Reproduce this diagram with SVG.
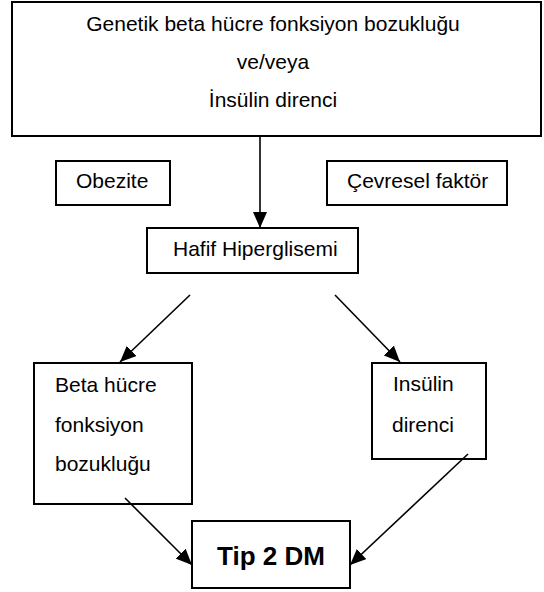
<svg xmlns="http://www.w3.org/2000/svg" width="544" height="592" viewBox="0 0 544 592">
<defs>
<style>
.box{fill:#fff;stroke:#000;stroke-width:2}
.t{font-family:"Liberation Sans",Arial,sans-serif;font-size:21px;fill:#000}
.b{font-family:"Liberation Sans",Arial,sans-serif;font-size:26px;font-weight:bold;fill:#000}
.c{stroke:#000;stroke-width:1.6;fill:none}
</style>
<marker id="ah2" viewBox="0 0 16 14" refX="16" refY="7" markerWidth="16" markerHeight="14" markerUnits="userSpaceOnUse" orient="auto">
<path d="M0,0 L16,7 L0,14 z" fill="#000"/>
</marker>
</defs>
<rect width="544" height="592" fill="#fff"/>
<g id="top">
<rect class="box" x="12" y="2" width="529" height="134"/>
<text class="t" x="273" y="31" text-anchor="middle">Genetik beta hücre fonksiyon bozukluğu</text>
<text class="t" x="273" y="69" text-anchor="middle">ve/veya</text>
<text class="t" x="273" y="107" text-anchor="middle">İnsülin direnci</text>
</g>
<g id="obezite">
<rect class="box" x="56" y="161" width="114" height="44"/>
<text class="t" x="76" y="188">Obezite</text>
</g>
<g id="cevresel">
<rect class="box" x="327" y="161" width="180" height="44"/>
<text class="t" x="347" y="188">Çevresel faktör</text>
</g>
<g id="hafif">
<rect class="box" x="147" y="228" width="211" height="45"/>
<text class="t" x="173" y="256">Hafif Hiperglisemi</text>
</g>
<g id="beta">
<rect class="box" x="34" y="363" width="158" height="141"/>
<text class="t" x="55" y="392">Beta hücre</text>
<text class="t" x="55" y="432">fonksiyon</text>
<text class="t" x="55" y="471">bozukluğu</text>
</g>
<g id="insulin">
<rect class="box" x="372" y="363" width="114" height="96"/>
<text class="t" x="393" y="391">Insülin</text>
<text class="t" x="392" y="432">direnci</text>
</g>
<g id="tip2">
<rect class="box" x="192" y="521" width="158" height="67"/>
<text class="b" x="271" y="565" text-anchor="middle">Tip 2 DM</text>
</g>
<g id="connectors">
<line class="c" x1="260" y1="136" x2="260" y2="228" marker-end="url(#ah2)"/>
<line class="c" x1="190" y1="295" x2="120" y2="362" marker-end="url(#ah2)"/>
<line class="c" x1="335" y1="295" x2="400" y2="362" marker-end="url(#ah2)"/>
<line class="c" x1="125" y1="498" x2="192" y2="565" marker-end="url(#ah2)"/>
<line class="c" x1="468" y1="454" x2="350" y2="565" marker-end="url(#ah2)"/>
</g>
</svg>
